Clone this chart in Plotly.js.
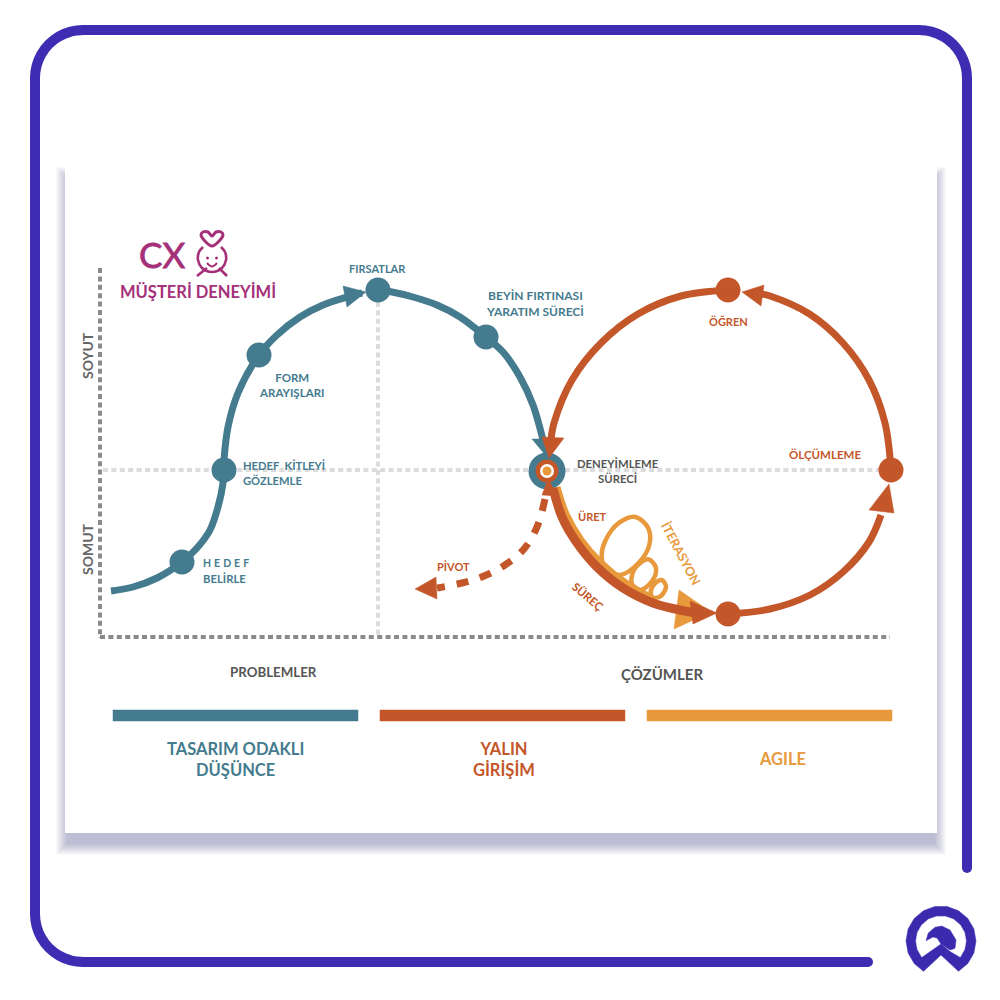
<!DOCTYPE html>
<html><head><meta charset="utf-8">
<script src="https://cdn.plot.ly/plotly-3.0.1.min.js"></script>
<style>html,body{margin:0;padding:0;background:#fff}#c{width:1000px;height:1000px}</style></head>
<body><div id="c"></div>
<script>
const TEAL='#447b8e', RUST='#c4572a', AMBER='#e8993c', PLUM='#a5307a', INDIGO='#3e2cb2', GREY='#8a8a8a', LIGHT='#dcdcdc';

// frame corner offsets
const cornerDx=[0,.41,1.64,3.65,6.43,9.92,14.06,18.78,24,29.63,35.58,41.73,48];
const cornerDy=[0,6.27,12.42,18.37,24,29.22,33.94,38.08,41.57,44.35,46.36,47.59,48];
const frameEndX=[967,868], frameEndY=[868,962];
// card
const cardX=[65,937,937,65,65], cardY=[167,167,833,833,167];
const shadowSpread=[12,11,10,9,8,7,6,5,4,3,2,1];
// dotted axes
const axisVX=[100,100], axisVY=[268,638], axisHX=[100,890], axisHY=[637,637];
const gridVX=[378,378], gridVY=[302,635], gridHX=[103,890], gridHY=[470,470];
// teal curve
const tealX=[111,133,157,182,197,210,218,223,224,228,238,259,277,300,323,347,362];
const tealY=[591,587,578,562,548,530,507,483,460,427,393,355,335,317,305,297,293];
const teal2X=[378,392,413,437,460,486,503,520,533,543];
const teal2Y=[290,292,297,305,317,337,352,377,405,440];
const tealHead1X=[366,343,347,366], tealHead1Y=[292,286,307,292];
const tealHead2X=[532,547,556,532], tealHead2Y=[439,457,439,439];
const tealNodeX=[182,224,259,378,486], tealNodeY=[562,470,355,290,337];
// rust loop
const loopTopLeftX=[728,681,638,601,572,554,551], loopTopLeftY=[290,296,314,343,380,423,440];
const loopHead1X=[542,564,549,542], loopHead1Y=[437,438,458,437];
const loopRightX=[891,885,869,843,809.5,770,756], loopRightY=[470,423,380,343,314,296,293];
const loopHead2X=[742,764,761,742], loopHead2Y=[292,285,306,292];
const loopBottomX=[728,770,810,843,869,881], loopBottomY=[614,609,595,572,542,515];
const loopHead3X=[889,869,894,889], loopHead3Y=[484,510,513,484];
const loopNodeX=[728,891,728], loopNodeY=[290,470,614];
// process arrow
const amberPathX=[557,566,581,601,627,650], amberPathY=[487,514,540,563,584,597];
const amberHeadX=[679,674,711,679], amberHeadY=[590,629,612,590];
const rustPathX=[553,562,577,597,623,653,680,697], rustPathY=[488,517,543,567,588,603,610,613];
const rustHeadX=[717,690,693,717], rustHeadY=[613,601,624,613];
const rustTopHeadX=[548,542,558,548], rustTopHeadY=[479,495,496,479];
// iteration loops
const bigLoopX=[636.7,648.3,649.3,638.3,620,606.7,601.7,611.7,626.7,636.7], bigLoopY=[517.3,528.3,545,563.3,575,570,553.3,530,518.3,517.3];
const midLoopX=[648.3,656,651.7,640,631.7,635,648.3], midLoopY=[559.3,568.3,581.7,590,583.3,568.3,559.3];
const smallLoopX=[661.7,666,660,652.7,650.7,655,661.7], smallLoopY=[580,586.7,596.7,597.3,591.7,583.3,580];
// pivot
const pivotX=[545,537,524,505,484,462,437], pivotY=[499,527,549,565,576,583,588];
const pivotHeadX=[415,436,437,415], pivotHeadY=[589,577,599,589];
// centre
const centreX=[547], centreY=[471];
// bars
const bar1X=[113,358,358,113,113], bar2X=[380,625,625,380,380], bar3X=[647,892,892,647,647], barY=[710,710,721,721,710];
// cx icon
const heartX=[212,204,201,203,208,212,216,221,223,220,212], heartY=[246,240,235,232,232,236,232,232,235,240,246];
const headX=[203,199,198,202,212,222,226,225,221], headY=[247,252,260,268,272,268,260,252,247];
const armLX=[197,207], armLY=[276,268], armRX=[227,219], armRY=[276,268];
const eyeX=[207.5,216.5], eyeY=[258,258];
const smileX=[207,212,217], smileY=[263,266.5,263];
// logo
const logoOutX=[923.5,914.2,908.1,906,908.1,914.2,923.5,934.9,947.1,958.5,967.8,973.9,976,973.9,967.8,958.5,941,923.5];
const logoOutY=[971.3,963.5,953,941,929,918.5,910.7,906.5,906.5,910.7,918.5,929,941,953,963.5,971.3,955,971.3];
const logoInX=[921.8,917.5,916,917.5,921.8,928.5,936.7,945.3,953.5,960.2,964.5,966,964.5,960.2,950,941,921.8];
const logoInY=[957,949.6,941,932.4,924.9,919.3,916.4,916.4,919.3,924.9,932.4,941,949.6,957,951,943.5,957];
const logoHookX=[926,928.3,935,941.7,950,956,955,950,941,937,933,926];
const logoHookY=[940.7,933,927.3,926,930,940,948.3,950,944,938,937,940.7];

// labels
const labels=['CX','MÜŞTERİ DENEYİMİ','FIRSATLAR','BEYİN FIRTINASI<br>YARATIM SÜRECİ','FORM<br>ARAYIŞLARI','HEDEF  KİTLEYİ<br>GÖZLEMLE','HEDEF','BELİRLE','SOYUT','SOMUT','PROBLEMLER','ÇÖZÜMLER','TASARIM ODAKLI<br>DÜŞÜNCE','YALIN<br>GİRİŞİM','AGILE','DENEYİMLEME<br>SÜRECİ','ÜRET','PİVOT','SÜREÇ','İTERASYON','ÖĞREN','ÖLÇÜMLEME'];
const labelX=[162,198,377,535,291,241,201,201,87,87,273,662,235,504,782,618,592,453,588,681,728,825];
const labelY=[254,292,268,303,385,473,563,578,356,549,672,674,759,759,759,471,516,566,596,553,321,454];
const labelSize=[35,16.5,11,12,11.5,11.2,10.5,11.3,14,14,13.3,15,16.5,16.5,16.5,11.3,11,11,11.5,12.5,11,11.5];
const labelColor=[PLUM,PLUM,TEAL,TEAL,TEAL,TEAL,TEAL,TEAL,'#666','#666','#555','#555',TEAL,RUST,AMBER,'#555',RUST,RUST,RUST,AMBER,RUST,RUST];
const labelAngle=[0,0,0,0,0,0,0,0,-90,-90,0,0,0,0,0,0,0,0,40,62,0,0];
const labelAlign=['center','center','center','center','center','left','left','left','center','center','center','center','center','center','center','center','center','center','center','center','center','center'];

function line(x,y,color,width,shape,dash){return {x,y,mode:'lines',hoverinfo:'skip',line:{color,width,shape:shape||'spline',smoothing:1,simplify:false,dash:dash||'solid'}};}
function poly(x,y,fill){return {x,y,mode:'lines',hoverinfo:'skip',fill:'toself',fillcolor:fill,line:{color:fill,width:0.5,shape:'linear',simplify:false}};}
function dots(x,y,color,size){return {x,y,mode:'markers',hoverinfo:'skip',marker:{color,size,line:{width:0}}};}

// frame path assembled from the corner offsets
const frameX=[967], frameY=[868];
cornerDx.forEach((d,i)=>{frameX.push(967-d);frameY.push(78-cornerDy[i]);});
cornerDx.slice().reverse().forEach((d,i,a)=>{frameX.push(35+d);frameY.push(78-cornerDy[a.length-1-i]);});
cornerDx.forEach((d,i)=>{frameX.push(35+d);frameY.push(914+cornerDy[i]);});
frameX.push(868);frameY.push(962);

const traces=[];
shadowSpread.forEach(d=>{
  const sx=cardX.map(v=>v<500?v+3-d:v-3+d), sy=cardY.map(v=>v<500?v+12-d:v+10+d);
  traces.push({x:sx,y:sy,mode:'none',hoverinfo:'skip',fill:'toself',fillcolor:'rgba(60,50,125,0.03)'});
});
traces.push({x:cardX,y:cardY,mode:'none',hoverinfo:'skip',fill:'toself',fillcolor:'#ffffff'});
traces.push(line(frameX,frameY,INDIGO,10,'linear'), dots(frameEndX,frameEndY,INDIGO,10));
const dot='5px,3.4px';
traces.push(line(gridVX,gridVY,LIGHT,4,'linear',dot), line(gridHX,gridHY,LIGHT,4,'linear',dot));
traces.push(line(axisVX,axisVY,GREY,4,'linear',dot), line(axisHX,axisHY,GREY,4,'linear',dot));
traces.push(poly(bar1X,barY,TEAL),poly(bar2X,barY,RUST),poly(bar3X,barY,AMBER));
// icon
traces.push(line(heartX,heartY,PLUM,3),line(headX,headY,PLUM,2.6),line(armLX,armLY,PLUM,2.6,'linear'),line(armRX,armRY,PLUM,2.6,'linear'),line(smileX,smileY,PLUM,2),dots(eyeX,eyeY,PLUM,3));
// teal
traces.push(line(tealX,tealY,TEAL,7),line(teal2X,teal2Y,TEAL,7),poly(tealHead1X,tealHead1Y,TEAL),poly(tealHead2X,tealHead2Y,TEAL),dots(tealNodeX,tealNodeY,TEAL,25));
// centre node
traces.push(dots(centreX,centreY,TEAL,37));
// rust loop
traces.push(line(loopTopLeftX,loopTopLeftY,RUST,7),line(loopRightX,loopRightY,RUST,7),line(loopBottomX,loopBottomY,RUST,7));
traces.push(poly(loopHead1X,loopHead1Y,RUST),poly(loopHead2X,loopHead2Y,RUST),poly(loopHead3X,loopHead3Y,RUST),dots(loopNodeX,loopNodeY,RUST,25));
traces.push(dots(centreX,centreY,RUST,23),dots(centreX,centreY,'#ffffff',14),dots(centreX,centreY,AMBER,9));
// pivot
traces.push(line(pivotX,pivotY,RUST,7,'spline','12px,12px'),poly(pivotHeadX,pivotHeadY,RUST));
// iteration
traces.push(line(bigLoopX,bigLoopY,AMBER,4.5),line(midLoopX,midLoopY,AMBER,4.5),line(smallLoopX,smallLoopY,AMBER,4.5));
traces.push(line(amberPathX,amberPathY,AMBER,7),poly(amberHeadX,amberHeadY,AMBER));
traces.push(line(rustPathX,rustPathY,RUST,9),poly(rustHeadX,rustHeadY,RUST),poly(rustTopHeadX,rustTopHeadY,RUST));
// logo
traces.push(poly(logoOutX,logoOutY,'#3b2aae'),poly(logoInX,logoInY,'#ffffff'),poly(logoHookX,logoHookY,'#3b2aae'));

const annotations=labels.map((t,i)=>({text:t,x:labelX[i],y:labelY[i],xref:'x',yref:'y',showarrow:false,textangle:labelAngle[i],xanchor:labelAlign[i],yanchor:'middle',align:labelAlign[i],
  font:{family:'Lato, "Open Sans", sans-serif',size:labelSize[i],color:labelColor[i],weight:i===0?400:700}}));

const layout={width:1000,height:1000,margin:{l:0,r:0,t:0,b:0},paper_bgcolor:'#fff',plot_bgcolor:'#fff',showlegend:false,hovermode:false,
  xaxis:{range:[0,1000],visible:false,fixedrange:true},yaxis:{range:[1000,0],visible:false,fixedrange:true},annotations};
Plotly.newPlot('c',traces,layout,{displayModeBar:false,staticPlot:true}).then(()=>{
  document.querySelectorAll('.annotation-text').forEach(el=>{
    if(el.textContent==='HEDEF') el.style.letterSpacing='3px';
    if(el.textContent==='CX'){ el.style.stroke=PLUM; el.style.strokeWidth='0.8px'; }
    if(el.textContent.indexOf('KİTLEYİ')>=0) el.style.whiteSpace='pre';
  });
});
</script></body></html>
